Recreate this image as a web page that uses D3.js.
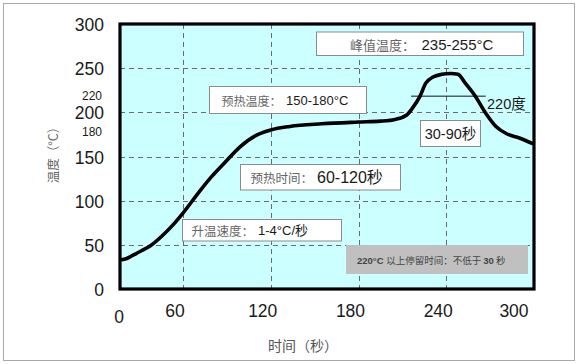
<!DOCTYPE html>
<html>
<head>
<meta charset="utf-8">
<script src="https://cdn.jsdelivr.net/npm/d3@7/dist/d3.min.js"></script>
<style>
  html, body { margin: 0; padding: 0; background: #fff; }
  svg { display: block; }
</style>
</head>
<body>
<svg id="chart" width="579" height="364"></svg>
<script>
// ---- data ----
const times = [0, 5, 12, 20, 29, 40, 50, 60, 72, 80, 88, 99, 110, 120, 133, 155, 180, 195, 205, 213, 217, 222, 226, 231, 237, 243, 248, 253, 260, 267, 274, 281, 290, 300];
const temps = [33, 34, 38, 43, 49, 60, 72, 86, 112, 128, 142, 161, 174, 180, 184, 187, 189, 190, 192, 197, 205, 218, 233, 240, 243, 244, 243, 233, 218, 199, 184, 176, 171, 164];
const xTickValues = [0, 60, 120, 180, 240, 300];
const xGridValues = [60, 120, 180, 240];
const yTickValues = [0, 50, 100, 150, 200, 250, 300];
const yMinorTickValues = [180, 220];
const yGridValues = [50, 100, 150, 200, 250];
const markLine220 = [216, 267];   // time span of the 220° reference line
const xTitle = "时间（秒）";
const yTitle = "温度（°C）";

// ---- layout ----
const svg = d3.select("#chart");
const plot = { left: 120, right: 534, top: 24, bottom: 289 };

const x = d3.scaleLinear().domain([0, 60, 300]).range([plot.left, 183, plot.right]);
const y = d3.scaleLinear().domain([0, 300]).range([plot.bottom, plot.top]);

// outer frame
svg.append("rect").attr("x", 3.5).attr("y", 3.5).attr("width", 571).attr("height", 357)
  .attr("fill", "#fff").attr("stroke", "#aaa").attr("stroke-width", 1);

// plot background
svg.append("rect").attr("x", plot.left).attr("y", plot.top)
  .attr("width", plot.right - plot.left).attr("height", plot.bottom - plot.top)
  .attr("fill", "#ccffff");

// grid
const grid = svg.append("g").attr("stroke", "#6a6a6a").attr("stroke-width", 1).attr("stroke-dasharray", "5,4");
grid.selectAll("line.h").data(yGridValues).join("line").attr("class", "h")
  .attr("x1", plot.left).attr("x2", plot.right)
  .attr("y1", d => Math.round(y(d)) + 0.5).attr("y2", d => Math.round(y(d)) + 0.5);
grid.selectAll("line.v").data(xGridValues).join("line").attr("class", "v")
  .attr("y1", plot.top).attr("y2", plot.bottom)
  .attr("x1", d => Math.round(x(d)) + 0.5).attr("x2", d => Math.round(x(d)) + 0.5);

// annotation boxes (white)
const CJK = "'Noto Sans CJK SC', sans-serif";
const LAT = "'Liberation Sans', Arial, sans-serif";
const boxes = [
  { x: 316.5, y: 32, w: 207, h: 23.5, label: "峰值温度：", lx: 350, ls: 13, num: "235-255°C", nx: 421.5, ns: 15, cy: 44 },
  { x: 209.5, y: 86.5, w: 157, h: 27, label: "预热温度：", lx: 221.5, ls: 12, num: "150-180°C", nx: 286, ns: 13, cy: 100.5 },
  { x: 240.5, y: 164.5, w: 160, h: 25.5, label: "预热时间：", lx: 250.5, ls: 12.5, num: "60-120秒", nx: 317, ns: 16, cy: 177.5 },
  { x: 182.5, y: 219.5, w: 159, h: 21.5, label: "升温速度：", lx: 191.5, ls: 12.5, num: "1-4°C/秒", nx: 258, ns: 13, cy: 230.5 }
];
boxes.forEach(b => {
  svg.append("rect").attr("x", b.x).attr("y", b.y).attr("width", b.w).attr("height", b.h)
    .attr("fill", "#fff").attr("stroke", "#8a8a8a").attr("stroke-width", 1);
  svg.append("text").attr("x", b.lx).attr("y", b.cy).attr("dominant-baseline", "central")
    .attr("font-family", CJK).attr("font-size", b.ls).attr("fill", "#666").text(b.label);
  svg.append("text").attr("x", b.nx).attr("y", b.cy).attr("dominant-baseline", "central")
    .attr("font-family", LAT + ", " + CJK).attr("font-size", b.ns).attr("fill", "#1a1a1a").text(b.num);
});

// 30-90 box
svg.append("rect").attr("x", 420.5).attr("y", 120.5).attr("width", 60).attr("height", 26)
  .attr("fill", "#fff").attr("stroke", "#8a8a8a");
svg.append("text").attr("x", 450.5).attr("y", 134).attr("text-anchor", "middle").attr("dominant-baseline", "central")
  .attr("font-family", LAT + ", " + CJK).attr("font-size", 14.5).attr("fill", "#1a1a1a").text("30-90秒");

// grey note box
svg.append("rect").attr("x", 346).attr("y", 245).attr("width", 182).attr("height", 29).attr("fill", "#c0c0c0");
const note = svg.append("text").attr("x", 357).attr("y", 259.5).attr("dominant-baseline", "central")
  .attr("font-size", 9.5).attr("fill", "#444");
note.append("tspan").attr("font-family", LAT).attr("font-weight", "bold").text("220°C ");
note.append("tspan").attr("font-family", CJK).text("以上停留时间：不低于 ");
note.append("tspan").attr("font-family", LAT).attr("font-weight", "bold").text("30");
note.append("tspan").attr("font-family", CJK).text(" 秒");

// 220 reference line
svg.append("line").attr("x1", x(markLine220[0])).attr("x2", x(markLine220[1]))
  .attr("y1", y(220) + 1.5).attr("y2", y(220) + 1.5).attr("stroke", "#111").attr("stroke-width", 1);
svg.append("text").attr("x", 487).attr("y", 104).attr("dominant-baseline", "central")
  .attr("font-family", LAT + ", " + CJK).attr("font-size", 14.5).attr("fill", "#1a1a1a").text("220度");

// curve
const pts = times.map((t, i) => [t, temps[i]]);
const line = d3.line().x(d => x(d[0])).y(d => y(d[1])).curve(d3.curveMonotoneX);
svg.append("path").datum(pts).attr("d", line).attr("fill", "none")
  .attr("stroke", "#000").attr("stroke-width", 3.6).attr("stroke-linejoin", "round").attr("stroke-linecap", "butt");

// plot border
svg.append("rect").attr("x", plot.left).attr("y", plot.top)
  .attr("width", plot.right - plot.left).attr("height", plot.bottom - plot.top)
  .attr("fill", "none").attr("stroke", "#000").attr("stroke-width", 3.2);

// y tick labels
svg.append("g").selectAll("text").data(yTickValues).join("text")
  .attr("x", 104).attr("y", d => y(d) + 1).attr("text-anchor", "end").attr("dominant-baseline", "central")
  .attr("font-family", LAT).attr("font-size", 17.5).attr("fill", "#1a1a1a").text(d => d);
svg.append("g").selectAll("text").data(yMinorTickValues).join("text")
  .attr("x", 102).attr("y", d => y(d) + (d > 200 ? 1 : 1.5)).attr("text-anchor", "end").attr("dominant-baseline", "central")
  .attr("font-family", LAT).attr("font-size", 12).attr("fill", "#1a1a1a").text(d => d);

// x tick labels
svg.append("g").selectAll("text").data(xTickValues).join("text")
  .attr("x", d => x(d) - (d === 0 ? 1 : (d === 300 ? 20 : 8))).attr("y", d => d === 0 ? 317 : 311)
  .attr("text-anchor", "middle").attr("dominant-baseline", "central")
  .attr("font-family", LAT).attr("font-size", 17.5).attr("fill", "#1a1a1a").text(d => d);

// axis titles
svg.append("text").attr("x", 303).attr("y", 345).attr("text-anchor", "middle").attr("dominant-baseline", "central")
  .attr("font-family", CJK).attr("font-size", 14).attr("fill", "#555").text(xTitle);
svg.append("text").attr("transform", "translate(52,152) rotate(-90)").attr("text-anchor", "middle")
  .attr("dominant-baseline", "central").attr("font-family", CJK).attr("font-size", 12.5).attr("fill", "#666").text(yTitle);
</script>
</body>
</html>
